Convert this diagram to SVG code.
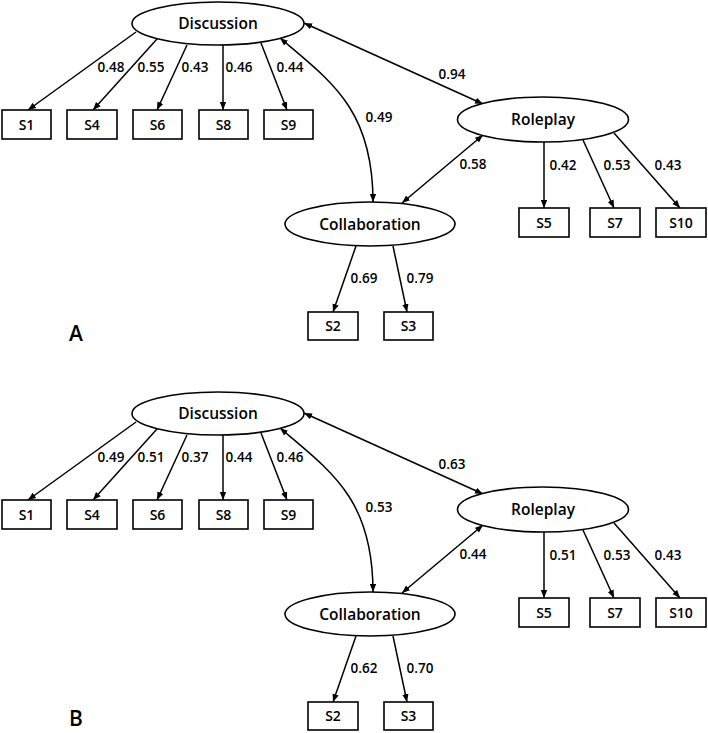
<svg xmlns="http://www.w3.org/2000/svg" width="708" height="733" viewBox="0 0 708 733">
<defs>
<marker id="ah" viewBox="0 0 10 10" refX="10" refY="5" markerWidth="8" markerHeight="8" markerUnits="userSpaceOnUse" orient="auto-start-reverse">
<path d="M0,1 L10,5 L0,9 Z" fill="#000"/>
</marker>
<style>
.lat{fill:#fff;stroke:#000;stroke-width:1.6}
.box{fill:#fff;stroke:#000;stroke-width:1.6}
.nt{font-family:"Open Sans",sans-serif;font-size:15.5px;font-weight:600;text-anchor:middle;fill:#000}
.bt{font-family:"Open Sans",sans-serif;font-size:14px;font-weight:600;text-anchor:middle;fill:#000}
.lb{font-family:"Open Sans",sans-serif;font-size:13.5px;font-weight:600;text-anchor:middle;fill:#000}
.pl{font-family:"Open Sans",sans-serif;font-size:21px;font-weight:600;fill:#000}
.e{fill:none;stroke:#000;stroke-width:1.5;marker-end:url(#ah)}
.d{fill:none;stroke:#000;stroke-width:1.5;marker-end:url(#ah);marker-start:url(#ah)}
</style>
</defs>
<g id="panelA">
<g id="connectorsA">
<line class="e" x1="136" y1="32" x2="28" y2="110"/>
<line class="e" x1="157" y1="39" x2="93" y2="110"/>
<line class="e" x1="187" y1="45" x2="157" y2="110"/>
<line class="e" x1="223" y1="45" x2="223" y2="110"/>
<line class="e" x1="261" y1="43" x2="287" y2="110"/>
<line class="d" x1="304" y1="23" x2="483" y2="104"/>
<path class="d" d="M280,38 C332,82 373,110 373,202"/>
<line class="d" x1="402" y1="203" x2="483" y2="135"/>
<line class="e" x1="544" y1="142" x2="544" y2="208"/>
<line class="e" x1="583" y1="140" x2="614" y2="208"/>
<line class="e" x1="614" y1="133" x2="680" y2="208"/>
<line class="e" x1="356" y1="246" x2="333" y2="312"/>
<line class="e" x1="393" y1="246" x2="407" y2="312"/>
<text class="lb" x="111" y="72">0.48</text>
<text class="lb" x="151" y="72">0.55</text>
<text class="lb" x="195" y="72">0.43</text>
<text class="lb" x="239" y="72">0.46</text>
<text class="lb" x="290" y="72">0.44</text>
<text class="lb" x="452" y="79">0.94</text>
<text class="lb" x="379" y="122">0.49</text>
<text class="lb" x="473" y="169">0.58</text>
<text class="lb" x="563" y="170">0.42</text>
<text class="lb" x="617" y="170">0.53</text>
<text class="lb" x="668" y="170">0.43</text>
<text class="lb" x="364" y="283">0.69</text>
<text class="lb" x="420" y="283">0.79</text>
</g>
<g id="A_Discussion"><ellipse class="lat" cx="218" cy="23.5" rx="86" ry="21.5"/><text class="nt" x="218" y="29">Discussion</text></g>
<g id="A_Roleplay"><ellipse class="lat" cx="543" cy="119.5" rx="85.5" ry="22.5"/><text class="nt" x="543" y="125">Roleplay</text></g>
<g id="A_Collaboration"><ellipse class="lat" cx="370" cy="224" rx="85" ry="22"/><text class="nt" x="370" y="229.5">Collaboration</text></g>
<g id="A_S1"><rect class="box" x="2" y="110" width="49" height="29"/><text class="bt" x="26.5" y="129.5">S1</text></g>
<g id="A_S4"><rect class="box" x="67" y="110" width="50" height="29"/><text class="bt" x="92" y="129.5">S4</text></g>
<g id="A_S6"><rect class="box" x="133" y="110" width="49" height="29"/><text class="bt" x="157.5" y="129.5">S6</text></g>
<g id="A_S8"><rect class="box" x="199" y="110" width="49" height="29"/><text class="bt" x="223.5" y="129.5">S8</text></g>
<g id="A_S9"><rect class="box" x="264" y="110" width="49" height="29"/><text class="bt" x="288.5" y="129.5">S9</text></g>
<g id="A_S5"><rect class="box" x="519" y="208" width="50" height="29"/><text class="bt" x="544" y="227.5">S5</text></g>
<g id="A_S7"><rect class="box" x="590" y="208" width="50" height="29"/><text class="bt" x="615" y="227.5">S7</text></g>
<g id="A_S10"><rect class="box" x="656" y="208" width="50" height="29"/><text class="bt" x="681" y="227.5">S10</text></g>
<g id="A_S2"><rect class="box" x="308" y="312" width="50" height="28"/><text class="bt" x="333" y="331">S2</text></g>
<g id="A_S3"><rect class="box" x="384" y="312" width="49" height="28"/><text class="bt" x="408.5" y="331">S3</text></g>
<text class="pl" x="69" y="341">A</text>
</g>
<g id="panelB">
<g id="connectorsB">
<line class="e" x1="136" y1="422" x2="28" y2="500"/>
<line class="e" x1="157" y1="429" x2="93" y2="500"/>
<line class="e" x1="187" y1="435" x2="157" y2="500"/>
<line class="e" x1="223" y1="435" x2="223" y2="500"/>
<line class="e" x1="261" y1="433" x2="287" y2="500"/>
<line class="d" x1="304" y1="413" x2="483" y2="494"/>
<path class="d" d="M280,428 C332,472 373,500 373,592"/>
<line class="d" x1="402" y1="593" x2="483" y2="525"/>
<line class="e" x1="544" y1="532" x2="544" y2="598"/>
<line class="e" x1="583" y1="530" x2="614" y2="598"/>
<line class="e" x1="614" y1="523" x2="680" y2="598"/>
<line class="e" x1="356" y1="636" x2="333" y2="702"/>
<line class="e" x1="393" y1="636" x2="407" y2="702"/>
<text class="lb" x="111" y="462">0.49</text>
<text class="lb" x="151" y="462">0.51</text>
<text class="lb" x="195" y="462">0.37</text>
<text class="lb" x="239" y="462">0.44</text>
<text class="lb" x="290" y="462">0.46</text>
<text class="lb" x="452" y="469">0.63</text>
<text class="lb" x="379" y="512">0.53</text>
<text class="lb" x="473" y="559">0.44</text>
<text class="lb" x="563" y="560">0.51</text>
<text class="lb" x="617" y="560">0.53</text>
<text class="lb" x="668" y="560">0.43</text>
<text class="lb" x="364" y="673">0.62</text>
<text class="lb" x="420" y="673">0.70</text>
</g>
<g id="B_Discussion"><ellipse class="lat" cx="218" cy="413.5" rx="86" ry="21.5"/><text class="nt" x="218" y="419">Discussion</text></g>
<g id="B_Roleplay"><ellipse class="lat" cx="543" cy="509.5" rx="85.5" ry="22.5"/><text class="nt" x="543" y="515">Roleplay</text></g>
<g id="B_Collaboration"><ellipse class="lat" cx="370" cy="614" rx="85" ry="22"/><text class="nt" x="370" y="619.5">Collaboration</text></g>
<g id="B_S1"><rect class="box" x="2" y="500" width="49" height="29"/><text class="bt" x="26.5" y="519.5">S1</text></g>
<g id="B_S4"><rect class="box" x="67" y="500" width="50" height="29"/><text class="bt" x="92" y="519.5">S4</text></g>
<g id="B_S6"><rect class="box" x="133" y="500" width="49" height="29"/><text class="bt" x="157.5" y="519.5">S6</text></g>
<g id="B_S8"><rect class="box" x="199" y="500" width="49" height="29"/><text class="bt" x="223.5" y="519.5">S8</text></g>
<g id="B_S9"><rect class="box" x="264" y="500" width="49" height="29"/><text class="bt" x="288.5" y="519.5">S9</text></g>
<g id="B_S5"><rect class="box" x="519" y="598" width="50" height="29"/><text class="bt" x="544" y="617.5">S5</text></g>
<g id="B_S7"><rect class="box" x="590" y="598" width="50" height="29"/><text class="bt" x="615" y="617.5">S7</text></g>
<g id="B_S10"><rect class="box" x="656" y="598" width="50" height="29"/><text class="bt" x="681" y="617.5">S10</text></g>
<g id="B_S2"><rect class="box" x="308" y="702" width="50" height="28"/><text class="bt" x="333" y="721">S2</text></g>
<g id="B_S3"><rect class="box" x="384" y="702" width="49" height="28"/><text class="bt" x="408.5" y="721">S3</text></g>
<text class="pl" x="69" y="726">B</text>
</g>
</svg>
